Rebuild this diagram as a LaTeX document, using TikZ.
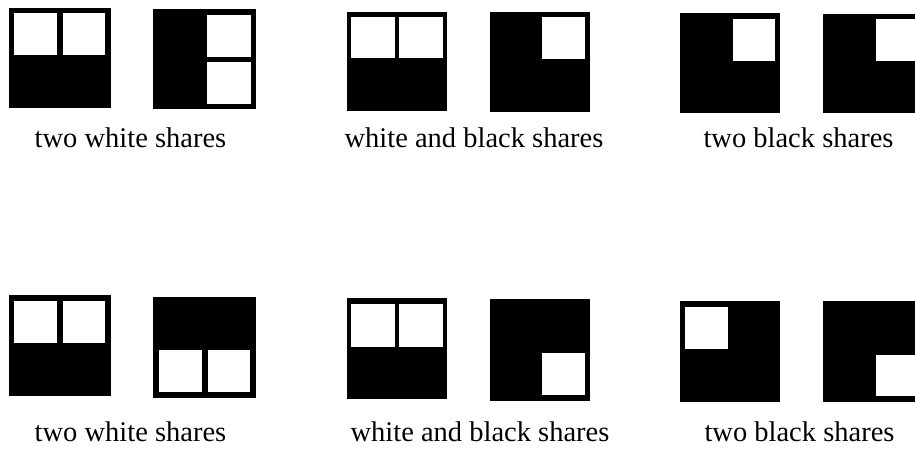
\documentclass[tikz,border=0pt]{standalone}
\usepackage{fontspec}
\setmainfont{Liberation Serif}
\begin{document}
\begin{tikzpicture}[x=1pt,y=-1pt,
  share/.style={fill=black},
  hole/.style={fill=white},
  lbl/.style={anchor=base,inner sep=0pt,font=\fontsize{28.5}{34}\selectfont}]
\useasboundingbox (0,0) rectangle (915,453);
\clip (0,0) rectangle (915,453);
% top row
\fill[share] (9,7.5) rectangle (110.5,108);
\fill[hole] (14,13.3) rectangle (57.3,55);
\fill[hole] (62.7,13.3) rectangle (105.3,55);
\fill[share] (153.3,9) rectangle (255.7,109.3);
\fill[hole] (207.3,15) rectangle (250.7,57.3);
\fill[hole] (207.3,62.3) rectangle (250.7,104.3);
\fill[share] (346.7,11.7) rectangle (447,110.7);
\fill[hole] (351.3,16.7) rectangle (394.7,58.3);
\fill[hole] (399,16.7) rectangle (442.7,58.3);
\fill[share] (490,12.3) rectangle (590,111.7);
\fill[hole] (542.3,17.3) rectangle (585,59.3);
\fill[share] (680.3,13.3) rectangle (780.3,113.3);
\fill[hole] (732.7,19.3) rectangle (775.3,61);
\fill[share] (823.3,14) rectangle (923.3,113);
\fill[hole] (876,19.3) rectangle (919,61);
% bottom row
\fill[share] (9,295) rectangle (110.7,396);
\fill[hole] (14,300.7) rectangle (57.3,342.7);
\fill[hole] (62.7,300.7) rectangle (105.3,342.7);
\fill[share] (153.3,297) rectangle (255.7,397.7);
\fill[hole] (159.3,350) rectangle (202.3,392.3);
\fill[hole] (208,350) rectangle (250,392.3);
\fill[share] (346.7,298.3) rectangle (446.7,399.3);
\fill[hole] (351.3,304) rectangle (394.7,346.7);
\fill[hole] (399,304) rectangle (442.7,346.7);
\fill[share] (490,299.3) rectangle (590,400.7);
\fill[hole] (542.3,353.3) rectangle (585,395);
\fill[share] (680.3,301) rectangle (780.3,401.7);
\fill[hole] (685,307) rectangle (728.3,349);
\fill[share] (823.3,301) rectangle (923.3,401.7);
\fill[hole] (876,355) rectangle (919,395.7);
% labels
\node[lbl] (l1) at (130.5,147) {two white shares};
\node[lbl] (l2) at (474,147) {white and black shares};
\node[lbl] (l3) at (798.5,147) {two black shares};
\node[lbl] (l4) at (130.5,441) {two white shares};
\node[lbl] (l5) at (480,441) {white and black shares};
\node[lbl] (l6) at (799.5,441) {two black shares};
\end{tikzpicture}
\end{document}
